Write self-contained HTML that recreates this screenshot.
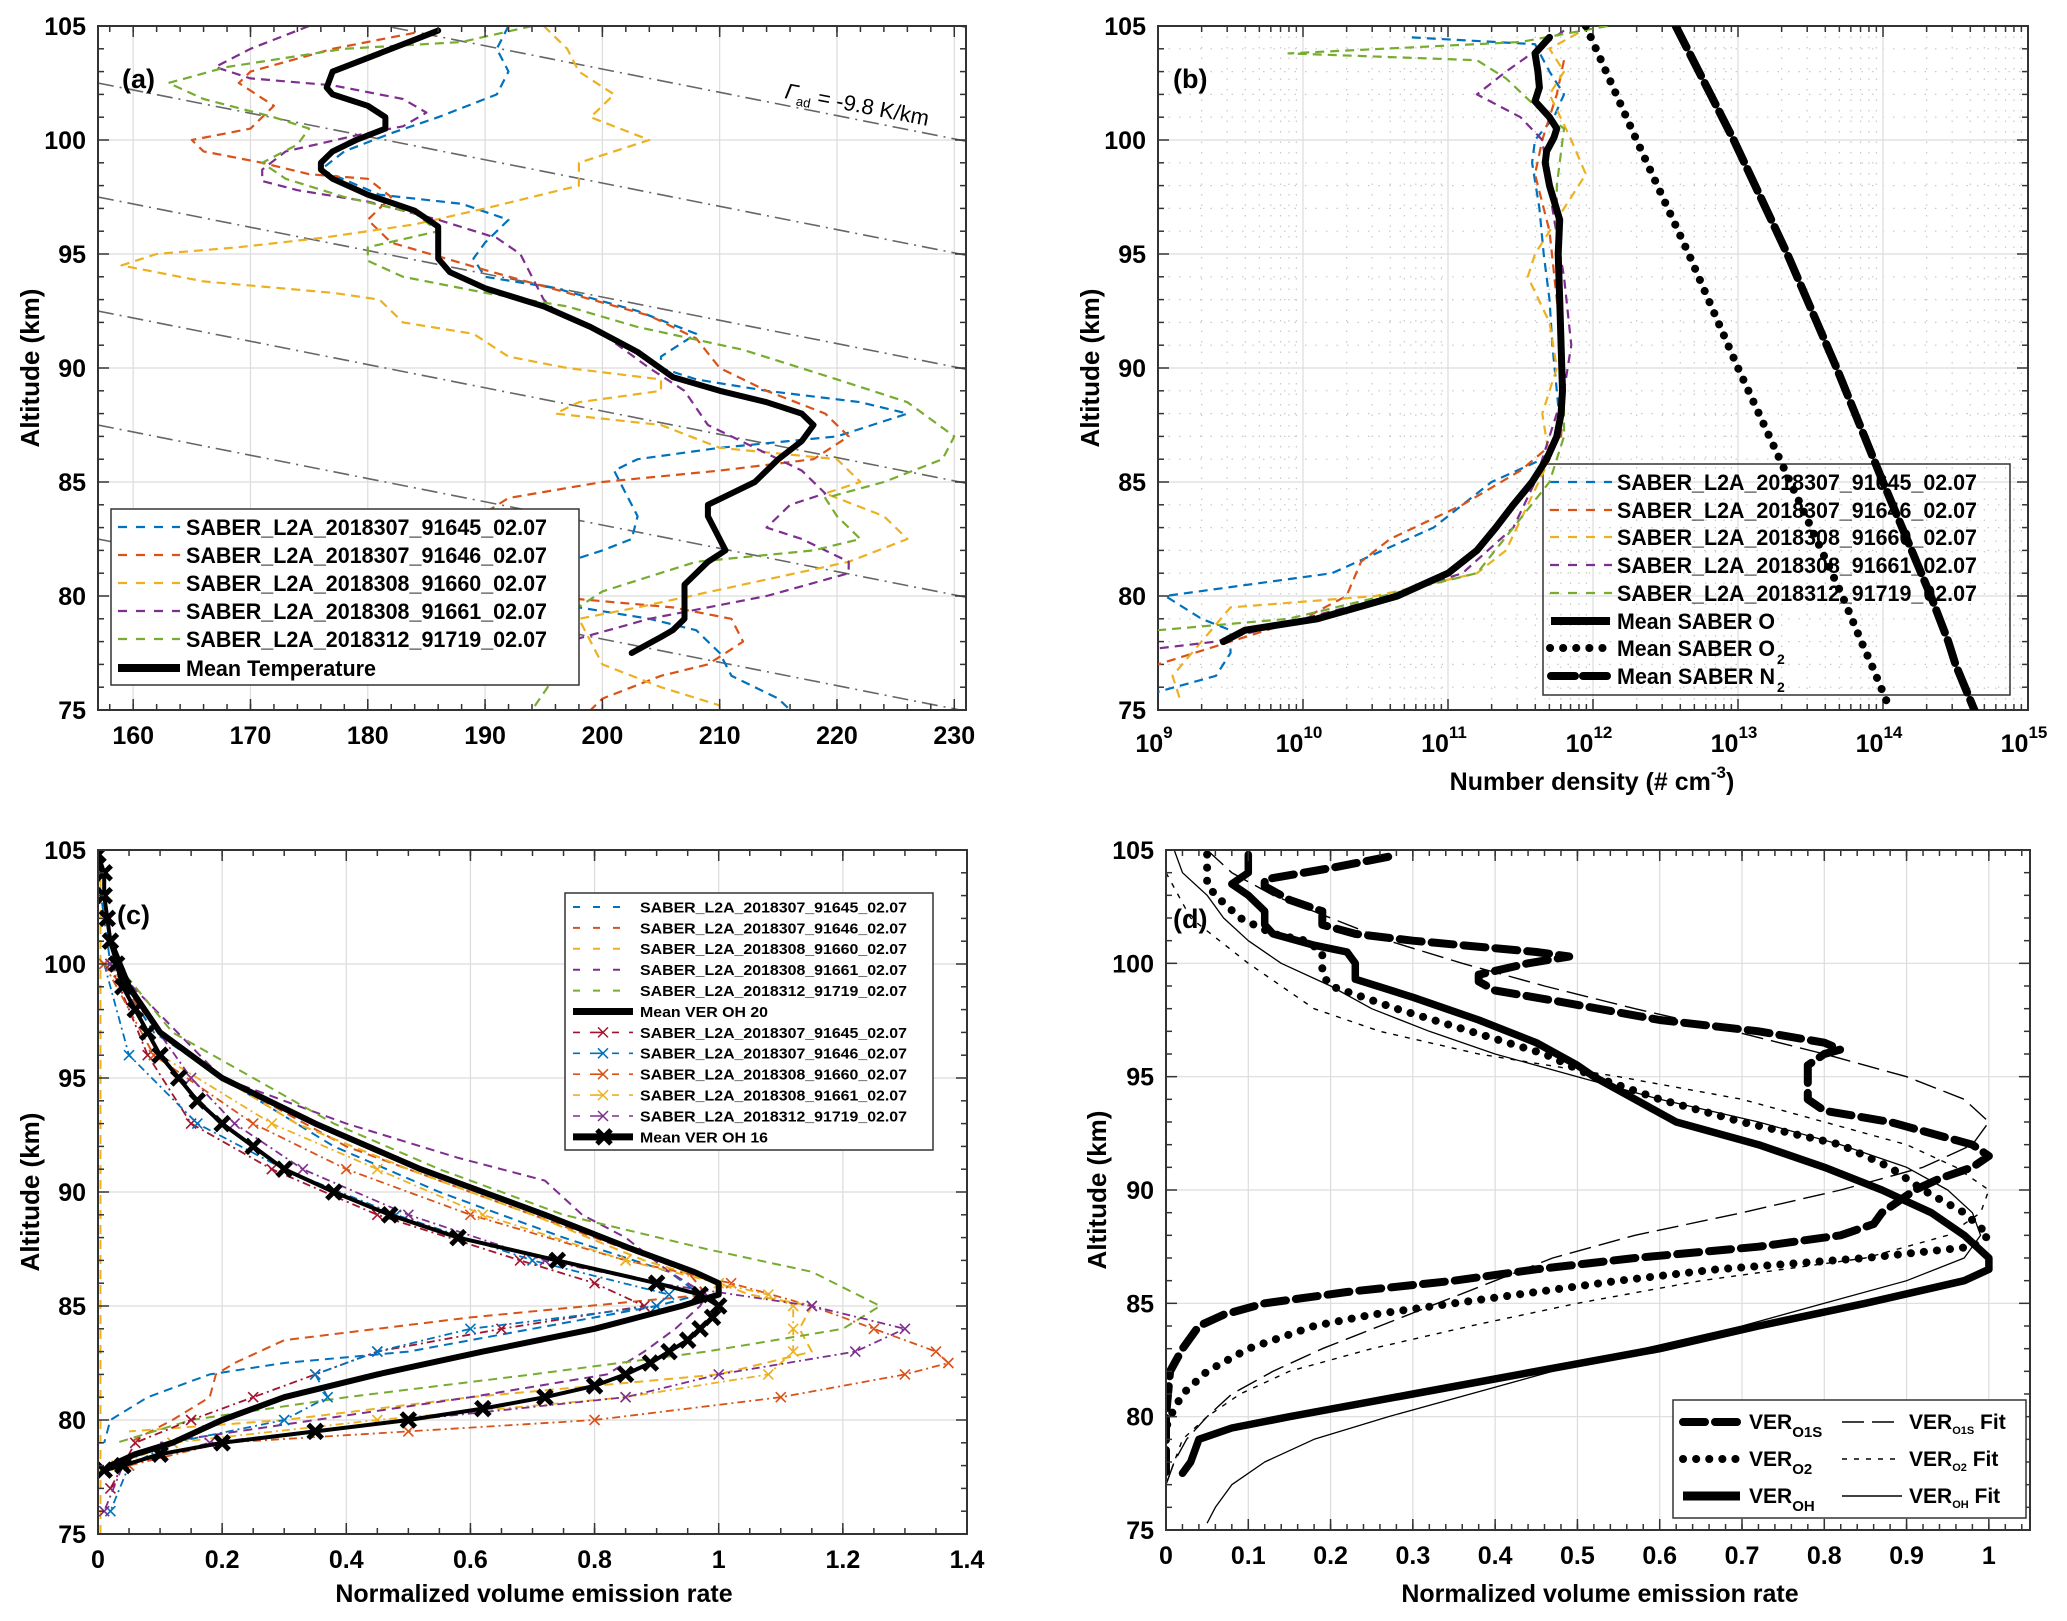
<!DOCTYPE html>
<html><head><meta charset="utf-8">
<style>
html,body{margin:0;padding:0;background:#fff;}
svg{display:block;font-family:"Liberation Sans",Arial,sans-serif;font-weight:bold;}
</style></head>
<body>
<svg id="fig" xmlns="http://www.w3.org/2000/svg" width="2067" height="1621" viewBox="0 0 2067 1621">
<rect x="0" y="0" width="2067" height="1621" fill="#fff"/>
</svg>
<script>
// ---------------- DATA ----------------
// Panel (a) temperature profiles (K) vs altitude (km)
const aMeanZ=[104.8,103.8,103,102.3,102,101.5,101,100.5,100,99.5,99,98.7,98.3,97.6,96.9,96.2,95.5,94.8,94.2,93.5,92.7,91.8,90.7,89.6,89,88.5,88,87.5,86.8,86,85,84.5,84,83.5,83,82,81.5,80.5,79.8,79,78.5,78.2,77.5];
const aMeanT=[186,181,177,176.5,177,180,181.5,181.5,179,177,176,176,177,180,184,186,186,186,187,190,195,199,203,206,210,214,217,218,217,215,213,211,209,209,209.5,210.5,209,207,207,207,206,205,202.5];
const aBlueZ=[105,104,103,102,101,100.3,99.5,98.7,97.6,97.2,96.5,95.5,94.8,94,93.5,92.5,91.5,90.5,90,89.5,89,88.5,88,87,86.5,86,85.5,84.5,83.5,82.5,82,81.5,80.5,79.5,79,78.5,77.5,76.5,75.5,75];
const aBlueT=[192,191,192,191,186,182,178,176,181,188,192,190,189,190,196,203,208,205,205,208,214,222,226,220,210,203,201,202,203,202.5,200,197,196,198,204,208,210,211,215,216];
const aRedZ=[104.7,104,103,102.5,101.5,100.5,100,99.5,99,98.5,98.3,97.5,96.5,95.5,94.3,93.3,92.3,91.3,90,89,88,87,86,85.5,85,84.3,83,81.5,80,79.5,79,78,77,76.5,75.5,75];
const aRedT=[184,177,170,169,172,170,165,166,171,175,180,182,180,182,190,197,204,208,210,214,219,221,218,210,200,192,188,190,195,206,211,212,209,205,200,199];
const aOrangeZ=[105,104,103,102,101,100,99,98,97,96.3,95.7,95.3,95,94.5,93.8,93.3,93,92,91.5,90.5,90,89.5,89,88.5,88,87.5,86.5,86,85,84.5,83.5,82.5,81.5,80.5,79.5,79,77,76,75.2];
const aOrangeT=[195,197,198,201,199,204,198,198,190,184,176,169,162,159,166,177,181,183,189,192,197,205,205,198,196,205,210,220,222,219,224,226,221,212,203,198,200,205,210];
const aPurpleZ=[105,104,103.2,102.7,102.4,101.8,101.2,100.6,100.2,99.5,98.7,98.2,97.8,97.3,96.5,95.7,95,94,93,92.5,91.5,90,89,87.5,86.5,85.5,84.5,84,83,82.5,81.5,81,80,79,78,77.5];
const aPurpleT=[175,170,167,170,177,183,185,183,179,173,171,171,174,180,186,191,193,194,195,196,200,204,207,209,213,217,219,216,214,217,221,221,214,204,197,193];
const aGreenZ=[105,104.3,104,103.2,102.5,101.8,101,100.5,99.8,99,98.3,97.5,96.8,96,95.3,94.7,94,93.3,92.7,91.8,90.8,89.5,88.5,87,86,85,84.3,83.5,82.5,82,81.5,80.2,78.5,76.5,75];
const aGreenT=[194,188,178,168,163,166,172,175,174,171,173,178,184,186,180,180,183,190,197,203,212,220,226,230,229,224,219,220,222,218,208,200,195,196,194];
const aAdiabatZ0=[112.5,107.5,102.5,97.5,92.5,87.5,82.5]; // altitude at T=157 K
const aLapse=9.8;
const aXTicks=[160,170,180,190,200,210,220,230];
const altTicks=[75,80,85,90,95,100,105];

// Panel (b) log10 number density (cm^-3)
const bMeanZ=[104.5,103.8,103,102.3,101.7,101,100.5,100.1,99.5,99,98,96.5,95,93,91,89,88,87,86,85,84,83,82,81,80,79,78.5,78];
const bMeanO=[11.7,11.6,11.62,11.63,11.6,11.7,11.75,11.73,11.68,11.67,11.7,11.77,11.76,11.77,11.78,11.79,11.78,11.75,11.68,11.58,11.45,11.33,11.2,11.0,10.65,10.1,9.6,9.45];
const bO2Z=[105,100,95,90,85,80,78,77,75];
const bO2=[11.95,12.3,12.66,13.0,13.36,13.72,13.85,13.92,14.05];
const bN2Z=[105,100,95,90,85,80,78,77,75];
const bN2=[12.57,12.97,13.34,13.68,14.0,14.33,14.45,14.5,14.63];
const bBlueZ=[104.5,104.2,103,102,101,100,99,97,95,93,91,89,87,86,85,83,81,80,79,78.5,77.5,76.5,75.8];
const bBlue=[10.75,11.6,11.7,11.8,11.73,11.6,11.58,11.63,11.66,11.7,11.72,11.75,11.78,11.65,11.3,10.9,10.2,9.05,9.3,9.5,9.5,9.4,9.0];
const bRedZ=[103.5,102,101,100,98.5,96,93,90,87,85.5,84,82.5,81.5,80,79,78,77];
const bRed=[11.8,11.75,11.7,11.65,11.6,11.7,11.75,11.8,11.78,11.5,11.1,10.6,10.4,10.3,10.0,9.5,9.0];
const bOrangeZ=[104.7,104,103,102,100,98.5,97,95,94,92,90,88,86,84,82,81,80,79.5,78,76.5,75.5];
const bOrange=[11.9,11.7,11.8,11.7,11.85,11.95,11.8,11.6,11.55,11.7,11.75,11.65,11.7,11.55,11.4,11.2,10.5,9.5,9.3,9.1,9.15];
const bPurpleZ=[104.8,103,102,101,100,97,94,91,89,87,85,83,81,80,79,78,77.7];
const bPurple=[11.8,11.4,11.2,11.5,11.65,11.72,11.8,11.85,11.8,11.7,11.6,11.45,11.1,10.6,10.0,9.4,9.0];
const bGreenZ=[105,104.3,103.8,103.5,102.7,101.5,100.5,98,95,90,87,85,83,81,80,79,78.5];
const bGreen=[12.1,11.5,9.9,11.2,11.4,11.6,11.8,11.75,11.75,11.8,11.8,11.7,11.45,11.2,10.55,9.9,9.0];
const bXTickExp=[9,10,11,12,13,14,15];

// Panel (c) normalized VER
const cMean20Z=[101,99,97,95,93,91,89,87.5,86.5,86,85.5,85,84,83,82,81,80,79,78.5,78];
const cMean20=[0.02,0.05,0.1,0.2,0.35,0.52,0.72,0.86,0.96,1.0,1.0,0.94,0.8,0.62,0.45,0.3,0.2,0.12,0.06,0.02];
const cMean16Z=[104.8,104,103,102,101,100,99,98,97,96,95,94,93,92,91,90,89,88,87,86,85.5,85,84.5,84,83.5,83,82.5,82,81.5,81,80.5,80,79.5,79,78.5,78,77.8];
const cMean16=[0.0,0.01,0.01,0.015,0.02,0.03,0.04,0.06,0.08,0.1,0.13,0.16,0.2,0.25,0.3,0.38,0.47,0.58,0.74,0.9,0.97,1.0,0.99,0.97,0.95,0.92,0.89,0.85,0.8,0.72,0.62,0.5,0.35,0.2,0.1,0.04,0.01];
const cBlueZ=[104,100,97,95,92,90,88,86.5,85.5,85,84,83,82.5,82,81,80,79];
const cBlue=[0.0,0.02,0.09,0.2,0.38,0.55,0.75,0.92,0.97,0.9,0.7,0.5,0.3,0.18,0.08,0.02,0.01];
const cRedZ=[100,97,95,92,90,88,86.5,85.5,84.5,83.5,82.5,82,81,80,79];
const cRed=[0.01,0.1,0.2,0.4,0.6,0.8,0.95,0.98,0.6,0.3,0.22,0.19,0.18,0.12,0.05];
const cOrangeZ=[100,97,95,93,91,89,87,86,85.5,85,84,83,82,81,80,79.5];
const cOrange=[0.02,0.1,0.2,0.32,0.5,0.7,0.88,1.0,1.05,1.15,1.13,1.15,1.0,0.6,0.3,0.05];
const cPurpleZ=[100,95,93,91.5,90.5,89,88,86.5,85.5,85,84,83,82,81,80,79];
const cPurple=[0.02,0.2,0.4,0.58,0.72,0.78,0.85,0.92,0.98,0.97,0.93,0.88,0.82,0.6,0.35,0.1];
const cGreenZ=[100,97,95,93,91,89,87.5,86.5,85,84,83,82,81,80,79];
const cGreen=[0.03,0.12,0.25,0.38,0.55,0.75,0.98,1.15,1.26,1.2,0.98,0.7,0.4,0.15,0.03];
const cX1Z=[100,96,93,91,89,87,86,85,84,83,82,81,80,79,77];
const cX1=[0.02,0.08,0.15,0.28,0.45,0.68,0.8,0.88,0.65,0.45,0.35,0.25,0.15,0.06,0.02];
const cX2Z=[100,96,93,91,89,87,85.5,85,84,83,82,81,80,79,78,76];
const cX2=[0.01,0.05,0.16,0.3,0.48,0.7,0.92,0.9,0.6,0.45,0.35,0.37,0.3,0.12,0.05,0.02];
const cX3Z=[100,96,93,91,89,87,86,85,84,83,82.5,82,81,80,79.5,79,78];
const cX3=[0.01,0.09,0.25,0.4,0.6,0.85,1.02,1.15,1.25,1.35,1.37,1.3,1.1,0.8,0.5,0.2,0.05];
const cX4Z=[100,96,93,91,89,87,86,85.5,85,84,83,82,81,80,79,78];
const cX4=[0.02,0.1,0.28,0.45,0.62,0.85,1.0,1.08,1.12,1.12,1.12,1.08,0.85,0.45,0.12,0.03];
const cX5Z=[100,95,93,91,89,87,86,85,84,83,82,81,80,79,78,76];
const cX5=[0.02,0.15,0.22,0.33,0.5,0.72,0.9,1.15,1.3,1.22,1.0,0.85,0.5,0.18,0.04,0.01];
const cXTicks=[0,0.2,0.4,0.6,0.8,1,1.2,1.4];

// Panel (d) normalized VER
const dO1SZ=[104.7,104.2,103.7,103.4,102.8,102.3,101.7,101.3,101,100.5,100.3,100,99.5,99.2,98.8,98.3,97.5,97,96.5,96.2,96,95.5,95,94,93.5,93,92,91.5,91,90.5,90,89,88.5,88,87.5,87,86.5,86,85.5,85,84.5,84,83,82,80,78,77.5];
const dO1S=[0.27,0.2,0.12,0.12,0.15,0.19,0.19,0.23,0.3,0.45,0.49,0.44,0.38,0.38,0.4,0.48,0.6,0.72,0.8,0.82,0.8,0.78,0.78,0.78,0.8,0.88,0.98,1.0,0.98,0.94,0.91,0.87,0.86,0.82,0.72,0.57,0.45,0.35,0.22,0.12,0.07,0.04,0.02,0.005,0.0,0.0,0.0];
const dO2Z=[104.8,104,103.5,103,102,101.3,101,100.5,100,99.5,99,98,97,96,95,94,93,92,91,90,89,88,87.5,87,86.5,86,85.5,85,84.5,84,83,82,81,80,79.5];
const dO2=[0.05,0.05,0.05,0.06,0.09,0.13,0.17,0.19,0.19,0.19,0.2,0.28,0.37,0.46,0.52,0.6,0.7,0.82,0.88,0.92,0.97,1.0,0.98,0.85,0.67,0.55,0.45,0.35,0.25,0.18,0.1,0.05,0.02,0.005,0.0];
const dOHZ=[104.8,104,103.5,103,102.3,101.7,101.3,100.8,100.5,100,99.3,98.5,97.5,96.5,95.5,95,94,93,92,91,90,89,88,87,86.5,86,85,84,83,82,81,80,79.5,79,78.5,78,77.5];
const dOH=[0.1,0.1,0.08,0.1,0.12,0.12,0.13,0.18,0.22,0.23,0.23,0.3,0.38,0.45,0.5,0.52,0.57,0.62,0.72,0.8,0.87,0.93,0.97,1.0,1.0,0.97,0.85,0.72,0.6,0.45,0.3,0.15,0.08,0.04,0.035,0.03,0.02];
const dO1SFitZ=[105,104,103,102,101,100,99,98,97,96,95,94,93,92,91,90,89,88,87,86,85,84,83,82,81,80,79,78,77];
const dO1SFit=[0.05,0.08,0.13,0.2,0.27,0.36,0.46,0.57,0.69,0.8,0.9,0.97,1.0,0.98,0.92,0.82,0.7,0.57,0.47,0.4,0.33,0.26,0.19,0.13,0.08,0.05,0.025,0.01,0.0];
const dO2FitZ=[104,102,100,98,97,96,95,94,93,92,91,90,89,88,87,86,85,84,83,82,81,80,79,78,77];
const dO2Fit=[0.0,0.03,0.1,0.18,0.26,0.38,0.55,0.7,0.8,0.9,0.96,1.0,0.99,0.95,0.85,0.65,0.5,0.37,0.25,0.15,0.09,0.05,0.02,0.01,0.0];
const dOHFitZ=[105,104,103,102,101,100,99,98,97,96,95,94,93,92,91,90,89,88,87,86,85,84,83,82,81,80,79,78,77,76,75.3];
const dOHFit=[0.01,0.02,0.05,0.07,0.1,0.14,0.2,0.25,0.32,0.4,0.5,0.6,0.72,0.82,0.9,0.95,0.98,0.99,0.97,0.9,0.8,0.7,0.58,0.47,0.37,0.27,0.18,0.12,0.08,0.06,0.05];
const dXTicks=[0,0.1,0.2,0.3,0.4,0.5,0.6,0.7,0.8,0.9,1];

// ---------------- DRAWING ----------------
const NS="http://www.w3.org/2000/svg";
const svg=document.getElementById('fig');
function el(tag,attrs,parent){const e=document.createElementNS(NS,tag);for(const k in attrs)e.setAttribute(k,attrs[k]);(parent||svg).appendChild(e);return e;}
function txt(x,y,s,size,anchor,parent){const t=el('text',{x:x,y:y,'font-size':size,'text-anchor':anchor||'middle',fill:'#000'},parent);t.textContent=s;return t;}

const C={blue:'#0072BD',red:'#D95319',yel:'#EDB120',pur:'#7E2F8E',grn:'#77AC30',dred:'#A2142F'};

function makePanel(id,L,R,T,B,xmin,xmax,isLog){
  const g=el('g',{});
  
  
  const cp=el('clipPath',{id:'clip-'+id},g);
  el('rect',{x:L,y:T,width:R-L,height:B-T},cp);
  const sx=v=>L+(v-xmin)/(xmax-xmin)*(R-L);
  const sy=z=>B-(z-75)/(105-75)*(B-T);
  const plot=el('g',{'clip-path':'url(#clip-'+id+')'},g);
  
  
  return {g,plot,sx,sy,L,R,T,B,xmin,xmax};
}
function line(p,xs,zs,stroke,w,dash,name,cap,parent){
  let d='';
  for(let i=0;i<xs.length;i++){d+=(i?'L':'M')+p.sx(xs[i]).toFixed(1)+','+p.sy(zs[i]).toFixed(1);}
  const e=el('path',{d:d,fill:'none',stroke:stroke,'stroke-width':w,'stroke-dasharray':dash||'none','stroke-linejoin':'round','stroke-linecap':cap||'butt'},parent||p.plot);
  
  
  return e;
}
function markers(p,xs,zs,stroke,sz,w,name){
  const g=el('g',{},p.plot);
  
  
  for(let i=0;i<xs.length;i++){
    const x=p.sx(xs[i]),y=p.sy(zs[i]);
    el('path',{d:`M${x-sz},${y-sz}L${x+sz},${y+sz}M${x-sz},${y+sz}L${x+sz},${y-sz}`,stroke:stroke,'stroke-width':w,fill:'none'},g);
  }
}
function frame(p,xTicks,xMinorStep,xLabels,yTitle,yTitleX){
  const {L,R,T,B}=p;
  const gg=el('g',{},p.plot);
  
  
  xTicks.forEach(v=>{const x=p.sx(v);el('line',{x1:x,x2:x,y1:T,y2:B,stroke:'#dcdcdc','stroke-width':1.2},gg);});
  altTicks.forEach(z=>{const y=p.sy(z);el('line',{x1:L,x2:R,y1:y,y2:y,stroke:'#dcdcdc','stroke-width':1.2},gg);});
  const tg=el('g',{stroke:'#333','stroke-width':1.5},p.g);
  
  
  xTicks.forEach(v=>{const x=p.sx(v);el('line',{x1:x,x2:x,y1:B,y2:B-11},tg);el('line',{x1:x,x2:x,y1:T,y2:T+11},tg);});
  if(xMinorStep){for(let v=p.xmin;v<=p.xmax+1e-9;v+=xMinorStep){const vv=Math.round(v/xMinorStep)*xMinorStep;const x=p.sx(vv);if(x<L||x>R)continue;el('line',{x1:x,x2:x,y1:B,y2:B-6},tg);el('line',{x1:x,x2:x,y1:T,y2:T+6},tg);}}
  for(let z=75;z<=105;z++){const y=p.sy(z);const len=(z%5===0)?11:6;el('line',{x1:L,x2:L+len,y1:y,y2:y},tg);el('line',{x1:R,x2:R-len,y1:y,y2:y},tg);}
  el('rect',{x:L,y:T,width:R-L,height:B-T,fill:'none',stroke:'#333','stroke-width':2},p.g);
  const yl=el('g',{},p.g);
  
  
  altTicks.forEach(z=>txt(L-12,p.sy(z)+9,String(z),25,'end',yl));
  const yt=txt(yTitleX,(T+B)/2,yTitle,26,'middle',p.g);
  yt.setAttribute('transform',`rotate(-90 ${yTitleX} ${(T+B)/2})`);
  yt.setAttribute('dy','9');
  
  
  if(xLabels){
    const xl=el('g',{},p.g);
    
    
    xTicks.forEach(v=>txt(p.sx(v),B+34,xLabels(v),25,'middle',xl));
  }
}
function legendBox(x,y,w,h,name,fill){
  const g=el('g',{});
  
  
  el('rect',{x:x,y:y,width:w,height:h,fill:fill||'#fff',stroke:'#333','stroke-width':1.5},g);
  return g;
}
function legEntry(g,x1,x2,y,stroke,w,dash,label,tx,size,len,name,cap){
  const e=el('g',{},g);
  
  
  el('line',{x1:x1,x2:x2,y1:y,y2:y,stroke:stroke,'stroke-width':w,'stroke-dasharray':dash||'none','stroke-linecap':cap||'butt'},e);
  const t=txt(tx,y+size*0.36,label,size,'start',e);
  if(len){t.setAttribute('textLength',len);t.setAttribute('lengthAdjust','spacingAndGlyphs');}
  return e;
}
const names=['SABER_L2A_2018307_91645_02.07','SABER_L2A_2018307_91646_02.07','SABER_L2A_2018308_91660_02.07','SABER_L2A_2018308_91661_02.07','SABER_L2A_2018312_91719_02.07'];
const DASH='9 6';

// ===== Panel (a) =====
const pa=makePanel('a',98,966,26,710,157,231,false);
frame(pa,aXTicks,2,v=>String(v),'Altitude (km)',30);
aAdiabatZ0.forEach((z0,i)=>{
  const ts=[157,231];const zs=ts.map(t=>z0-(t-157)/aLapse);
  line(pa,ts,zs,'#666',1.6,'16 6 2 6','adiabatic-line-'+i);
});
line(pa,aBlueT,aBlueZ,C.blue,2.2,DASH,'temp-91645');
line(pa,aRedT,aRedZ,C.red,2.2,DASH,'temp-91646');
line(pa,aOrangeT,aOrangeZ,C.yel,2.2,DASH,'temp-91660');
line(pa,aPurpleT,aPurpleZ,C.pur,2.2,DASH,'temp-91661');
line(pa,aGreenT,aGreenZ,C.grn,2.2,DASH,'temp-91719');
line(pa,aMeanT,aMeanZ,'#000',6,null,'mean-temperature',"round");
{const t=txt(0,0,'',22,'start',pa.g);t.setAttribute('transform','translate(784,98) rotate(11)');
 t.setAttribute('font-weight','normal');
 
 
 t.innerHTML='<tspan font-style="italic">Γ</tspan><tspan font-size="13" dy="5">ad</tspan><tspan dy="-5"> = -9.8 K/km</tspan>';}
{const t=txt(122,88,'(a)',27,'start',pa.g);}
{const lg=legendBox(111,509,468,176,'legend-a');
 const cols=[C.blue,C.red,C.yel,C.pur,C.grn];const ys=[527,555,583,611,639];
 for(let i=0;i<5;i++)legEntry(lg,118,180,ys[i],cols[i],2.2,'9 9',names[i],186,22,361,'legend-entry-'+i);
 legEntry(lg,118,180,668,'#000',8,null,'Mean Temperature',186,22,190,'legend-entry-mean');}

// ===== Panel (b) =====
const pb=makePanel('b',1158,2028,26,710,9,15,true);
{const mg=el('g',{},pb.plot);
 for(let e=9;e<15;e++)for(let m=2;m<=9;m++){const x=pb.sx(e+Math.log10(m));el('line',{x1:x,x2:x,y1:26,y2:710,stroke:'#c8c8c8','stroke-width':1.2,'stroke-dasharray':'1.5 9'},mg);}
 for(let z=76;z<105;z++){if(z%5===0)continue;const y=pb.sy(z);el('line',{x1:1158,x2:2028,y1:y,y2:y,stroke:'#c8c8c8','stroke-width':1.2,'stroke-dasharray':'1.5 9'},mg);}
}
frame(pb,bXTickExp,null,null,'Altitude (km)',1090);
{const tg=el('g',{stroke:'#333','stroke-width':1.5},pb.g);
 for(let e=9;e<15;e++)for(let m=2;m<=9;m++){const x=pb.sx(e+Math.log10(m));el('line',{x1:x,x2:x,y1:710,y2:704},tg);el('line',{x1:x,x2:x,y1:26,y2:32},tg);}
 const xl=el('g',{},pb.g);
 bXTickExp.forEach(e=>{const t=txt(pb.sx(e)-4,752,'',25,'middle',xl);t.innerHTML='10<tspan font-size="17" dy="-14">'+e+'</tspan>';});
}
{const lg=legendBox(1543,464,467,231,'legend-b','none');
 const cols=[C.blue,C.red,C.yel,C.pur,C.grn];const ys=[482,510,537,565,593];
 for(let i=0;i<5;i++)legEntry(lg,1550,1612,ys[i],cols[i],2.2,'9 9',names[i],1617,22,360,'legend-entry-'+i);
 legEntry(lg,1551,1610,621,'#000',8,null,'Mean SABER O',1617,22,158,'legend-entry-o');
 const e2=legEntry(lg,1550,1612,648,'#000',8,'0.1 13','Mean SABER O',1617,22,158,'legend-entry-o2','round');
 const e3=legEntry(lg,1551,1612,676,'#000',8,'24 8','Mean SABER N',1617,22,158,'legend-entry-n2','round');
 txt(1777,664,'2',14,'start',e2);txt(1777,692,'2',14,'start',e3);}
{const top=el('g',{'clip-path':'url(#clip-b)'});
 
 
 line(pb,bBlue,bBlueZ,C.blue,2.2,DASH,'density-91645',null,top);
 line(pb,bRed,bRedZ,C.red,2.2,DASH,'density-91646',null,top);
 line(pb,bOrange,bOrangeZ,C.yel,2.2,DASH,'density-91660',null,top);
 line(pb,bPurple,bPurpleZ,C.pur,2.2,DASH,'density-91661',null,top);
 line(pb,bGreen,bGreenZ,C.grn,2.2,DASH,'density-91719',null,top);
 line(pb,bO2,bO2Z,'#000',8,'0.1 12','mean-saber-o2','round',top);
 line(pb,bN2,bN2Z,'#000',8,'24 8','mean-saber-n2','round',top);
 line(pb,bMeanO,bMeanZ,'#000',7,null,'mean-saber-o','round',top);}
{const t=txt(1173,88,'(b)',27,'start',pb.g);}
{const t=txt(1592,790,'',25,'middle',pb.g);t.innerHTML='Number density (# cm<tspan font-size="17" dy="-12">-3</tspan><tspan dy="12">)</tspan>';
 }

// ===== Panel (c) =====
const pc=makePanel('c',98,967,850,1534,0,1.4,false);
frame(pc,cXTicks,0.05,v=>String(v),'Altitude (km)',30);
el('line',{x1:pc.sx(0.004),x2:pc.sx(0.004),y1:850,y2:1534,stroke:C.yel,'stroke-width':2,'stroke-dasharray':DASH},pc.plot);
line(pc,cBlue,cBlueZ,C.blue,2,DASH,'ver20-91645');
line(pc,cRed,cRedZ,C.red,2,DASH,'ver20-91646');
line(pc,cOrange,cOrangeZ,C.yel,2,DASH,'ver20-91660');
line(pc,cPurple,cPurpleZ,C.pur,2,DASH,'ver20-91661');
line(pc,cGreen,cGreenZ,C.grn,2,DASH,'ver20-91719');
const cxs=[[cX1,cX1Z,C.dred],[cX2,cX2Z,C.blue],[cX3,cX3Z,C.red],[cX4,cX4Z,C.yel],[cX5,cX5Z,C.pur]];
cxs.forEach((s,i)=>{line(pc,s[0],s[1],s[2],1.8,'8 4 2 4','ver16-line-'+i);markers(pc,s[0],s[1],s[2],5,1.6,'ver16-markers-'+i);});
line(pc,cMean20,cMean20Z,'#000',6,null,'mean-ver-oh20','round');
line(pc,cMean16,cMean16Z,'#000',4,null,'mean-ver-oh16','round');
markers(pc,cMean16,cMean16Z,'#000',7,5,'mean-ver-oh16-markers');
{const t=txt(117,924,'(c)',27,'start',pc.g);}
{const t=txt(534,1602,'Normalized volume emission rate',25,'middle',pc.g);}
{const lg=legendBox(565,893,368,257,'legend-c');
 const cols=[C.blue,C.red,C.yel,C.pur,C.grn];
 for(let i=0;i<5;i++)legEntry(lg,573,633,907+i*20.9,cols[i],2,'7 13',names[i],640,15,267,'legend-entry-20-'+i);
 legEntry(lg,573,633,907+5*20.9,'#000',7,null,'Mean VER OH 20',640,15,128,'legend-entry-mean20');
 const cols2=[C.dred,C.blue,C.red,C.yel,C.pur];
 for(let i=0;i<5;i++){const y=907+(6+i)*20.9;const e=legEntry(lg,573,633,y,cols2[i],1.6,'7 10 12 10',names[i],640,15,267,'legend-entry-16-'+i);
   el('path',{d:`M${598},${y-5}L${608},${y+5}M${598},${y+5}L${608},${y-5}`,stroke:cols2[i],'stroke-width':1.5},e);}
 const y=907+11*20.9;const e=legEntry(lg,573,633,y,'#000',7,null,'Mean VER OH 16',640,15,128,'legend-entry-mean16');
 el('path',{d:`M${597},${y-7}L${611},${y+7}M${597},${y+7}L${611},${y-7}`,stroke:'#000','stroke-width':5},e);}

// ===== Panel (d) =====
const pd=makePanel('d',1166,2030,850,1530,0,1.05,false);
frame(pd,dXTicks,0.02,v=>String(v),'Altitude (km)',1097);
line(pd,dO1SFit,dO1SFitZ,'#000',1.4,'22 8','ver-o1s-fit');
line(pd,dO2Fit,dO2FitZ,'#000',1.4,'5 7','ver-o2-fit');
line(pd,dOHFit,dOHFitZ,'#000',1.3,null,'ver-oh-fit');
line(pd,dO1S,dO1SZ,'#000',8,'22 10','ver-o1s','round');
line(pd,dO2,dO2Z,'#000',8,'0.1 13','ver-o2','round');
line(pd,dOH,dOHZ,'#000',7.5,null,'ver-oh','round');
{const t=txt(1173,928,'(d)',27,'start',pd.g);}
{const t=txt(1600,1602,'Normalized volume emission rate',25,'middle',pd.g);}
{const lg=legendBox(1673,1400,353,118,'legend-d');
 const rowsY=[1422,1459,1496];
 const specs=[{w:8,d:'22 10',fd:'22 8',sub:'O1S'},{w:8,d:'0.1 13',fd:'5 7',sub:'O2'},{w:9,d:null,fd:null,sub:'OH'}];
 specs.forEach((s,i)=>{const y=rowsY[i];
  const e=el('g',{},lg);
  
  
  el('line',{x1:1683,x2:1740,y1:y,y2:y,stroke:'#000','stroke-width':s.w,'stroke-dasharray':s.d||'none','stroke-linecap':i<2?'round':'butt'},e);
  const t=txt(1749,y+7,'',21,'start',e);t.innerHTML='VER<tspan font-size="15" dy="8">'+s.sub+'</tspan>';
  const f=el('g',{},lg);
  
  
  el('line',{x1:1842,x2:1902,y1:y,y2:y,stroke:'#000','stroke-width':1.4,'stroke-dasharray':s.fd||'none'},f);
  const t2=txt(1909,y+7,'',21,'start',f);t2.innerHTML='VER<tspan font-size="11" dy="5">'+s.sub+'</tspan><tspan dy="-5"> Fit</tspan>';
 });}
</script>
</body></html>
